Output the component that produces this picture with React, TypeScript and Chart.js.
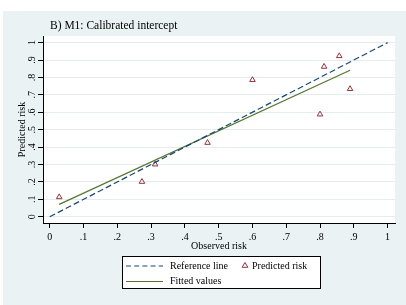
import React, { useEffect, useRef } from "react";
import { Chart, registerables } from "chart.js";

Chart.register(...registerables);

const titleText = "B) M1: Calibrated intercept";
const xTitle = "Observed risk";
const yTitle = "Predicted risk";

const tickValues = [0, 0.1, 0.2, 0.3, 0.4, 0.5, 0.6, 0.7, 0.8, 0.9, 1];
const tickLabels = ["0", ".1", ".2", ".3", ".4", ".5", ".6", ".7", ".8", ".9", "1"];

const observedRisk = [0.028, 0.273, 0.312, 0.467, 0.6, 0.8, 0.812, 0.857, 0.889];
const predictedRisk = [0.113, 0.201, 0.301, 0.425, 0.786, 0.588, 0.862, 0.923, 0.734];

const referenceX = [0, 1];
const referenceY = [0, 1];

const fittedX = [0.028, 0.889];
const fittedY = [0.071, 0.841];

const legendLabels = ["Reference line", "Predicted risk", "Fitted values"];

const NAVY = "#1a476f";
const MAROON = "#90353b";
const GREEN = "#55752f";
const BG = "#eaf2f3";
const GRID = "#e4ecee";
const FONT = "'Liberation Serif', 'DejaVu Serif', serif";

const decorPlugin = {
  id: "decor",
  beforeDraw(chart: any) {
    const { ctx, chartArea } = chart;
    ctx.save();
    ctx.fillStyle = "#ffffff";
    ctx.fillRect(0, 0, chart.width, chart.height);
    ctx.fillStyle = BG;
    ctx.fillRect(3, 11, chart.width - 3, chart.height - 11);
    ctx.fillStyle = "#ffffff";
    ctx.fillRect(chartArea.left, chartArea.top, chartArea.right - chartArea.left, chartArea.bottom - chartArea.top);
    ctx.restore();
  },
  afterDraw(chart: any) {
    const { ctx } = chart;
    const yScale = chart.scales.y;
    ctx.save();
    // title
    ctx.fillStyle = "#000";
    ctx.font = `11.5px ${FONT}`;
    ctx.textAlign = "left";
    ctx.textBaseline = "middle";
    ctx.fillText(titleText, 50, 26);

    // y tick labels (rotated)
    ctx.font = `10px ${FONT}`;
    yScale.ticks.forEach((t: any, i: number) => {
      const py = yScale.getPixelForValue(t.value);
      ctx.save();
      ctx.translate(35, py);
      ctx.rotate(-Math.PI / 2);
      ctx.textAlign = "center";
      ctx.textBaseline = "alphabetic";
      ctx.fillText(tickLabels[i], 0, 0);
      ctx.restore();
    });

    // legend
    const lx = 122.5, ly = 256.5, lw = 198, lh = 32;
    ctx.fillStyle = "#ffffff";
    ctx.fillRect(lx, ly, lw, lh);
    ctx.strokeStyle = "#000";
    ctx.lineWidth = 1;
    ctx.strokeRect(lx, ly, lw, lh);

    const r1 = 266, r2 = 281.5;
    // reference line sample
    ctx.beginPath();
    ctx.strokeStyle = NAVY;
    ctx.lineWidth = 1.2;
    ctx.setLineDash([5, 3.2]);
    ctx.moveTo(126, r1);
    ctx.lineTo(163, r1);
    ctx.stroke();
    ctx.setLineDash([]);
    // fitted sample
    ctx.beginPath();
    ctx.strokeStyle = GREEN;
    ctx.moveTo(126, r2);
    ctx.lineTo(163, r2);
    ctx.stroke();
    // triangle
    const tr = 3;
    const tx = 245, ty = r1 - 0.5;
    ctx.beginPath();
    ctx.strokeStyle = MAROON;
    ctx.lineWidth = 1;
    ctx.moveTo(tx, ty - tr);
    ctx.lineTo(tx + tr * 0.95, ty + tr * 0.6);
    ctx.lineTo(tx - tr * 0.95, ty + tr * 0.6);
    ctx.closePath();
    ctx.stroke();

    ctx.fillStyle = "#000";
    ctx.font = `10px ${FONT}`;
    ctx.textAlign = "left";
    ctx.textBaseline = "middle";
    ctx.fillText(legendLabels[0], 170, r1);
    ctx.fillText(legendLabels[1], 252, r1);
    ctx.fillText(legendLabels[2], 170, r2);
    ctx.restore();
  },
};

export default function App() {
  const ref = useRef<HTMLCanvasElement | null>(null);

  useEffect(() => {
    if (!ref.current) return;
    Chart.defaults.font.family = FONT;
    Chart.defaults.color = "#000";

    const setTicks = (scale: any) => {
      scale.ticks = tickValues.map((v) => ({ value: v }));
    };

    const chart = new Chart(ref.current, {
      type: "scatter",
      data: {
        datasets: [
          {
            type: "line",
            label: legendLabels[0],
            data: referenceX.map((x, i) => ({ x, y: referenceY[i] })),
            borderColor: NAVY,
            borderWidth: 1.2,
            borderDash: [6, 3],
            pointRadius: 0,
            fill: false,
          },
          {
            type: "scatter",
            label: legendLabels[1],
            data: observedRisk.map((x, i) => ({ x, y: predictedRisk[i] })),
            pointStyle: "triangle",
            pointRadius: 3.2,
            borderColor: MAROON,
            backgroundColor: "rgba(0,0,0,0)",
            borderWidth: 1,
          },
          {
            type: "line",
            label: legendLabels[2],
            data: fittedX.map((x, i) => ({ x, y: fittedY[i] })),
            borderColor: GREEN,
            borderWidth: 1.2,
            pointRadius: 0,
            fill: false,
          },
        ],
      },
      options: {
        animation: false,
        responsive: false,
        layout: { padding: { left: 0, top: 36, right: 11, bottom: 0 } },
        plugins: {
          legend: { display: false },
          title: { display: false },
          tooltip: { enabled: false },
        },
        scales: {
          x: {
            type: "linear",
            min: -0.02,
            max: 1.022,
            afterBuildTicks: setTicks,
            afterFit: (s: any) => {
              s.height = 82;
            },
            grid: {
              drawOnChartArea: false,
              drawTicks: true,
              tickLength: 5,
              tickColor: "#000",
              color: GRID,
            },
            border: { color: "#000", width: 1 },
            ticks: {
              autoSkip: false,
              maxRotation: 0,
              minRotation: 0,
              padding: 3,
              font: { size: 10, family: FONT },
              color: "#000",
              callback: (_v: any, i: number) => tickLabels[i],
            },
            title: {
              display: true,
              text: xTitle,
              font: { size: 10, family: FONT },
              color: "#000",
              padding: { top: 0, bottom: 53 },
            },
          },
          y: {
            type: "linear",
            min: -0.036,
            max: 1.038,
            afterBuildTicks: setTicks,
            afterFit: (s: any) => {
              s.width = 43;
            },
            grid: {
              drawOnChartArea: true,
              drawTicks: true,
              tickLength: 5,
              tickColor: "#000",
              color: GRID,
              lineWidth: 1,
            },
            border: { color: "#000", width: 1 },
            ticks: { display: false },
            title: {
              display: true,
              text: yTitle,
              font: { size: 10, family: FONT },
              color: "#000",
              padding: { top: 16, bottom: 0 },
            },
          },
        },
      },
      plugins: [decorPlugin],
    });
    return () => chart.destroy();
  }, []);

  return (
    <div style={{ position: "absolute", left: 0, top: 0 }}>
      <canvas ref={ref} width={406} height={305} style={{ width: 406, height: 305, display: "block" }} />
    </div>
  );
}
